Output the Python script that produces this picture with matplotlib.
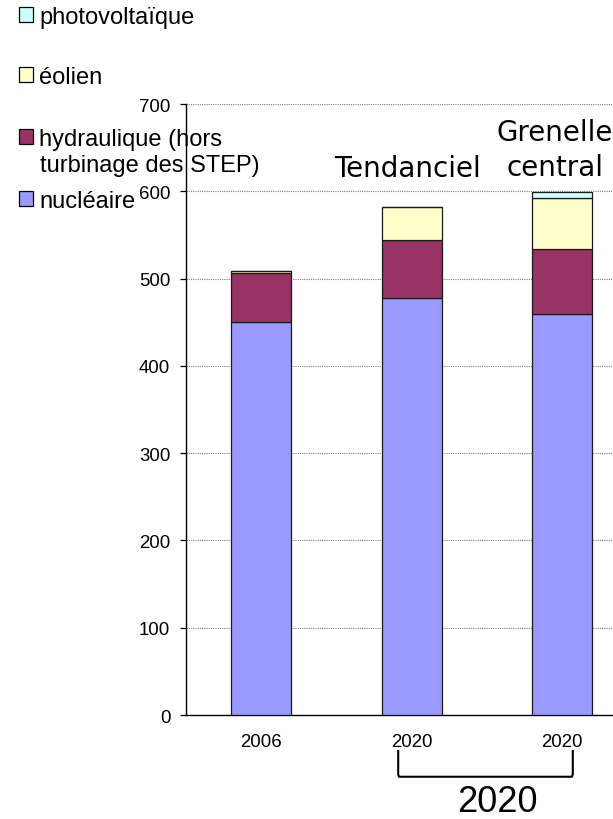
import matplotlib
matplotlib.use("Agg")
import matplotlib.pyplot as plt
import matplotlib.transforms as mtransforms
from matplotlib.patches import Patch
import numpy as np

plt.rcParams["font.family"] = ["Liberation Sans", "DejaVu Sans"]

# Production d'électricité (TWh)
years = ["2006", "2020", "2020"]
nucleaire = [450, 478, 460]
hydraulique = [56, 66, 74]
eolien = [3, 38, 58]
photovoltaique = [0, 0, 7]

series_names = ["nucléaire", "hydraulique (hors", "éolien", "photovoltaïque"]
series_colors = ["#9999FF", "#993366", "#FFFFCC", "#CCFFFF"]
scenario_labels = ["Tendanciel", "Grenelle\ncentral"]
y_ticks = [0, 100, 200, 300, 400, 500, 600, 700]

fig = plt.figure(figsize=(6.13, 8.20), dpi=100)
ax = fig.add_axes([186 / 613, 0.1268, 451.5 / 613, 611 / 820])
ax.patch.set_visible(False)

x = np.arange(len(years))
bottom = np.zeros(len(years))
for vals, color in zip([nucleaire, hydraulique, eolien, photovoltaique], series_colors):
    ax.bar(x, vals, width=0.4, bottom=bottom, color=color, edgecolor="#1a1a1a",
           linewidth=0.9, zorder=3)
    bottom += np.array(vals)

ax.set_xlim(-0.5, 2.5)
ax.set_ylim(0, 700)
ax.set_yticks(y_ticks)
ax.set_xticks(x)
ax.set_xticklabels(years)
ax.tick_params(axis="x", length=0, pad=13, labelsize=13.4)
ax.tick_params(axis="y", length=4.3, width=0.9, pad=7, labelsize=13.4, direction="out")
ax.yaxis.grid(True, color="#808080", linestyle=(0, (1, 1)), linewidth=0.8, zorder=0)
for s in ["top", "right"]:
    ax.spines[s].set_visible(False)
ax.spines["left"].set_linewidth(1.0)
ax.spines["bottom"].set_linewidth(1.0)

# scenario titles above the 2020 bars
ax.text(0.97, 617, scenario_labels[0], ha="center", va="baseline",
        fontsize=20, family="DejaVu Sans")
ax.text(1.95, 619, scenario_labels[1], ha="center", va="baseline",
        fontsize=20, family="DejaVu Sans", linespacing=1.3)

# bracket grouping the two 2020 bars
trans = mtransforms.blended_transform_factory(ax.transData, ax.transAxes)
bx = [0.91, 0.915, 2.065, 2.07]
by = [-0.059, -0.101, -0.101, -0.059]
ax.plot([bx[0], bx[0], bx[1], bx[2], bx[3], bx[3]],
        [by[0], -0.097, by[1], by[2], -0.097, by[3]],
        transform=trans, color="black", linewidth=1.5, clip_on=False,
        solid_joinstyle="round")
ax.text(1.57, -0.142, "2020", transform=trans, ha="center", va="center",
        fontsize=26)

# legend entries (placed individually as in the original)
leg_pos = [202, 140, 78, 18]
for name, color, ypix in zip(series_names, series_colors, leg_pos):
    leg = fig.legend(handles=[Patch(facecolor=color, edgecolor="black", linewidth=0.9)],
                     labels=[name], loc="center left",
                     bbox_to_anchor=(19 / 613, 1 - ypix / 820),
                     frameon=False, fontsize=17, borderpad=0, borderaxespad=0,
                     handlelength=0.6, handleheight=0.6, handletextpad=0.25)
    leg.set_zorder(-1)
fig.text(40 / 613, 1 - 166 / 820, "turbinage des STEP)", ha="left", va="center",
         fontsize=17, zorder=-1)

fig.savefig("out.png", dpi=100)
